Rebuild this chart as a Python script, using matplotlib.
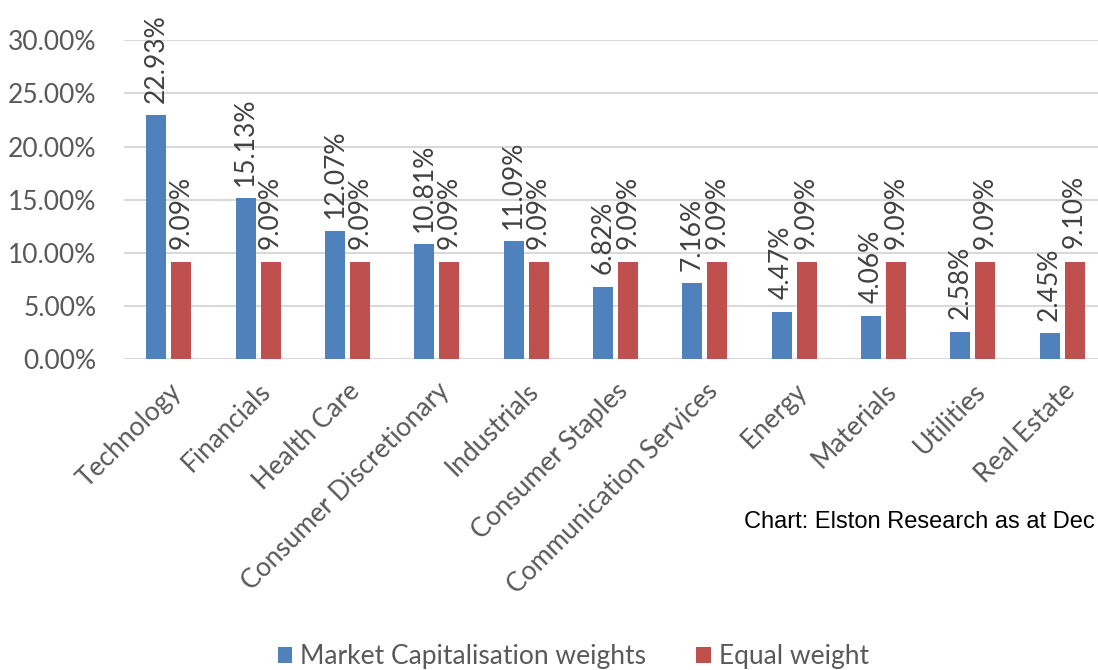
import matplotlib.pyplot as plt
import numpy as np

sectors = ['Technology', 'Financials', 'Health Care', 'Consumer Discretionary',
           'Industrials', 'Consumer Staples', 'Communication Services',
           'Energy', 'Materials', 'Utilities', 'Real Estate']
market_cap = [22.93, 15.13, 12.07, 10.81, 11.09, 6.82, 7.16, 4.47, 4.06, 2.58, 2.45]
equal_wt = [9.09, 9.09, 9.09, 9.09, 9.09, 9.09, 9.09, 9.09, 9.09, 9.09, 9.10]
yticks = [0, 5, 10, 15, 20, 25, 30]

blue = '#4F81BD'
red = '#C0504D'
grey = '#595959'
font = 'Lato'
fs = 19

fig = plt.figure(figsize = (10.98, 6.7), dpi = 100)
ax = fig.add_axes([0.113, 0.464, 0.895, 0.476])

x = np.arange(len(sectors))
w = 0.224
ax.bar(x - 0.14, market_cap, w, color = blue, label = 'Market Capitalisation weights', zorder = 3)
ax.bar(x + 0.14, equal_wt, w, color = red, label = 'Equal weight', zorder = 3)

for xi, v in zip(x, market_cap):
    ax.annotate(f'{v:.2f}%', (xi - 0.14, v), xytext = (0, 9), textcoords = 'offset points',
                rotation = 90, ha = 'center', va = 'bottom', fontsize = fs,
                color = '#404040', family = font, annotation_clip = False)
for xi, v in zip(x, equal_wt):
    ax.annotate(f'{v:.2f}%', (xi + 0.14, v), xytext = (0, 10), textcoords = 'offset points',
                rotation = 90, ha = 'center', va = 'bottom', fontsize = fs,
                color = '#404040', family = font, annotation_clip = False)

ax.set_xlim(-0.5, len(sectors) - 0.5)
ax.set_ylim(0, 30)
ax.set_yticks(yticks)
ax.set_yticklabels([f'{t:.2f}%' for t in yticks], fontsize = fs, color = grey, family = font)
ax.set_xticks(x)
ax.set_xticklabels(sectors, rotation = 45, ha = 'right', rotation_mode = 'anchor',
                   fontsize = fs, color = grey, family = font)
ax.tick_params(axis = 'y', length = 0, pad = 20)
ax.tick_params(axis = 'x', length = 0, pad = 14)
ax.grid(axis = 'y', color = '#D9D9D9', linewidth = 1.5, zorder = 0)
for s in ax.spines.values():
    s.set_visible(False)

fig.text(0.678, 0.221, 'Chart: Elston Research as at Dec', fontsize = 17,
         family = 'Liberation Sans', color = 'black', va = 'center')

fig.legend(loc = 'center', bbox_to_anchor = (0.522, 0.02), ncol = 2, frameon = False,
           prop = {'family': font, 'size': fs}, labelcolor = grey, handlelength = 0.55,
           handleheight = 0.55, handletextpad = 0.3, columnspacing = 1.9)

fig.savefig('out.png', dpi = 100)
